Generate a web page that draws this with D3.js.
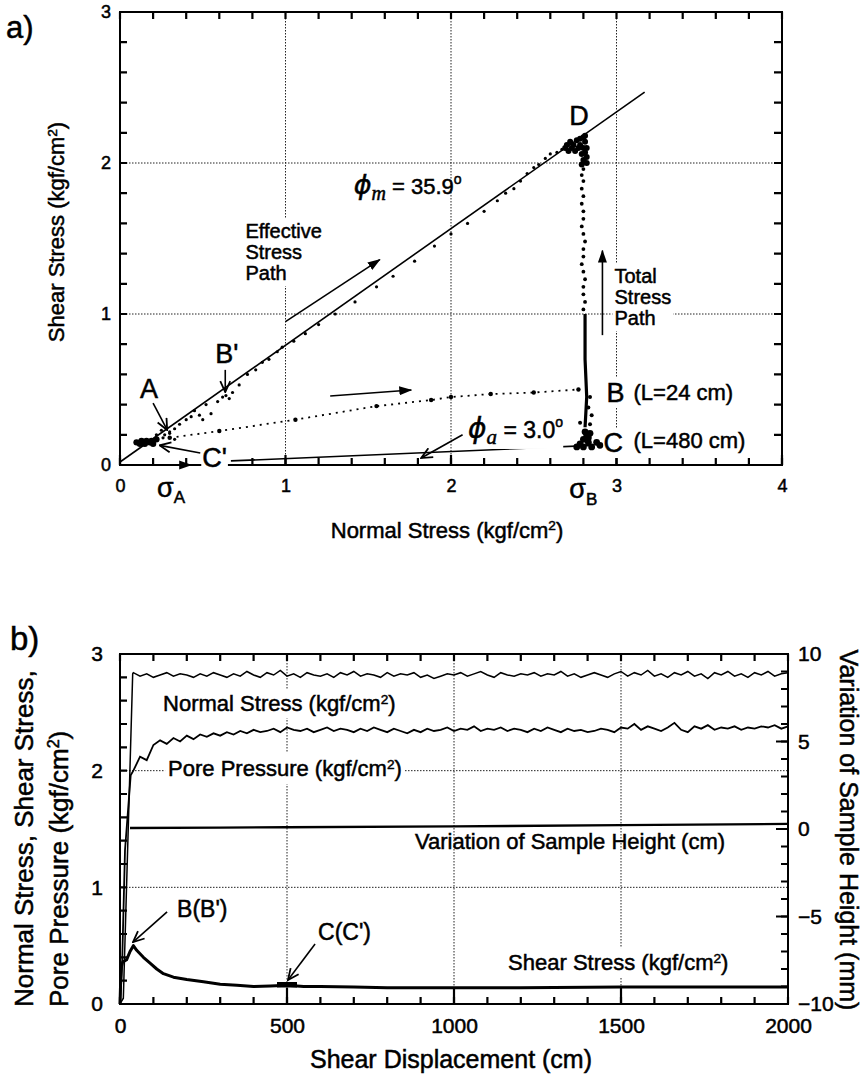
<!DOCTYPE html>
<html>
<head>
<meta charset="utf-8">
<script src="https://cdn.jsdelivr.net/npm/d3@7"></script>
<style>
  body { margin: 0; background: #fff; }
  svg { font-family: "Liberation Sans", Arial, sans-serif; }
  text { stroke: #000; stroke-width: 0.5px; }
  .grid { stroke: #222; stroke-width: 1; stroke-dasharray: 1.5 1.5; fill: none; }
</style>
</head>
<body>
<svg id="chart" width="866" height="1079"></svg>
<script>
// ---------- panel a: stress paths (kgf/cm2) ----------
const failLine = [[0, 0.02], [3.17, 2.47]];          // phi_m line
const residualLine = [[0.67, 0.027], [2.86, 0.13]];   // phi_a line, C -> C'
const effDots = [[0.27,0.2],[0.3,0.22],[0.33,0.24],[0.36,0.27],[0.4,0.3],[0.43,0.32],[0.45,0.36],
  [0.48,0.33],[0.5,0.3],[0.55,0.34],[0.52,0.4],[0.59,0.42],[0.62,0.45],[0.64,0.46],[0.66,0.44],
  [0.68,0.48],[0.72,0.53],[0.77,0.6],[0.82,0.63],[0.86,0.68],[0.9,0.7],[0.95,0.75],[0.98,0.78],
  [1.05,0.82],[1.12,0.87],[1.2,0.93],[1.3,1.0],[1.42,1.08],[1.55,1.18],[1.65,1.25],[1.78,1.35],
  [1.9,1.45],[2.0,1.53],[2.1,1.6],[2.2,1.68],[2.28,1.75],[2.33,1.8],[2.38,1.83],[2.42,1.88],
  [2.46,1.93],[2.5,1.97],[2.53,1.99],[2.57,2.03],[2.6,2.06],[2.64,2.07],[2.67,2.09]];
const dBlob = [[2.69,2.1],[2.7,2.12],[2.71,2.08],[2.72,2.14],[2.73,2.1],[2.74,2.12],[2.75,2.08],
  [2.76,2.15],[2.77,2.1],[2.78,2.16],[2.78,2.12],[2.79,2.06],[2.8,2.17],[2.8,2.1],[2.8,2.02],
  [2.81,2.14],[2.81,2.18],[2.82,2.1],[2.82,2.04],[2.82,2.0],[2.79,1.99],[2.81,2.07]];
const dropDots = [[2.8,1.96],[2.79,1.92],[2.8,1.88],[2.79,1.83],[2.8,1.78],[2.79,1.73],[2.8,1.68],
  [2.8,1.63],[2.79,1.58],[2.8,1.53],[2.81,1.48],[2.8,1.43],[2.8,1.38],[2.79,1.33],[2.8,1.28],
  [2.81,1.23],[2.8,1.18],[2.8,1.13],[2.81,1.08],[2.8,1.03]];
const dropLine = [[2.81, 1.0], [2.81, 0.7], [2.82, 0.45], [2.81, 0.25]];
const bcDots = [[2.84,0.45],[2.83,0.38],[2.85,0.33],[2.78,0.28],[2.84,0.27],[2.82,0.22]];
const cBlob = [[2.76,0.12],[2.8,0.12],[2.85,0.12],[2.9,0.13],[2.88,0.15],[2.83,0.15],[2.78,0.14],
  [2.8,0.17],[2.83,0.18],[2.82,0.2],[2.81,0.22],[2.84,0.21]];
const cPrimeBlob = [[0.1,0.15],[0.13,0.16],[0.16,0.16],[0.19,0.16],[0.22,0.17],[0.12,0.14],
  [0.15,0.14],[0.18,0.15],[0.2,0.14]];
const aDots = [[0.22,0.2],[0.26,0.18],[0.3,0.21],[0.33,0.17],[0.25,0.23]];
const totalPath = [[0.3,0.18],[0.6,0.225],[1.06,0.3],[1.55,0.39],[1.88,0.43],[2.0,0.45],
  [2.24,0.47],[2.5,0.48],[2.77,0.5]];
const xTicksA = [0, 1, 2, 3, 4];
const yTicksA = [0, 1, 2, 3];

// ---------- panel b: time histories vs shear displacement (cm) ----------
const dispX = d3.range(40, 2001, 20);   // sampling grid, 20 cm
const normalRise = [[0, 0], [10, 0.05], [38, 2.83]];
const normalStress = [2.84,2.81,2.83,2.80,2.82,2.84,2.81,2.83,2.82,2.80,
  2.83,2.81,2.84,2.82,2.80,2.83,2.81,2.85,2.82,2.80,
  2.84,2.82,2.86,2.81,2.83,2.80,2.84,2.82,2.81,2.83,
  2.80,2.84,2.82,2.85,2.81,2.83,2.82,2.80,2.84,2.81,
  2.83,2.82,2.84,2.80,2.82,2.79,2.81,2.83,2.82,2.84,
  2.81,2.83,2.85,2.82,2.80,2.84,2.82,2.81,2.83,2.82,
  2.84,2.81,2.83,2.82,2.85,2.81,2.83,2.80,2.82,2.84,
  2.82,2.80,2.83,2.85,2.81,2.84,2.82,2.86,2.81,2.83,
  2.80,2.84,2.82,2.85,2.81,2.83,2.79,2.84,2.82,2.85,
  2.81,2.83,2.80,2.84,2.82,2.85,2.81,2.83,2.84];
const poreRise = [[0, 0], [6, 0.3], [15, 1.32], [32, 1.96]];
const porePressure = [2.00,2.12,2.09,2.22,2.26,2.23,2.28,2.25,2.30,2.27,
  2.31,2.29,2.32,2.30,2.33,2.31,2.34,2.32,2.35,2.33,
  2.34,2.36,2.33,2.37,2.35,2.34,2.36,2.33,2.35,2.37,
  2.34,2.36,2.35,2.33,2.36,2.34,2.37,2.35,2.33,2.36,
  2.34,2.32,2.35,2.33,2.36,2.34,2.35,2.37,2.34,2.36,
  2.35,2.38,2.34,2.36,2.35,2.37,2.34,2.36,2.35,2.33,
  2.36,2.34,2.37,2.35,2.33,2.36,2.34,2.35,2.33,2.34,
  2.36,2.35,2.33,2.37,2.36,2.40,2.35,2.38,2.36,2.34,
  2.37,2.41,2.35,2.33,2.38,2.36,2.39,2.35,2.37,2.36,
  2.38,2.35,2.37,2.36,2.38,2.37,2.39,2.36,2.38];
const sampleHeight = [[30,0.06],[300,0.08],[500,0.1],[1000,0.15],[1500,0.22],[2000,0.29]];  // mm
const shearStress = [[0,0],[3,0.3],[8,0.36],[20,0.38],[30,0.45],[40,0.5],[50,0.46],[70,0.4],
  [90,0.35],[110,0.3],[130,0.26],[160,0.23],[200,0.21],[250,0.19],[300,0.17],[350,0.16],
  [400,0.15],[450,0.155],[500,0.16],[550,0.15],[600,0.15],[700,0.145],[800,0.14],[1000,0.14],
  [1200,0.14],[1500,0.145],[2000,0.145]];
const cMark = [[470, 0.165], [530, 0.165]];
const xTicksB = [0, 500, 1000, 1500, 2000];
const yTicksB = [0, 1, 2, 3];
const yTicksR = [-10, -5, 0, 5, 10];

const svg = d3.select("#chart");
const defs = svg.append("defs");
defs.append("marker").attr("id", "headFill").attr("viewBox", "0 -5 13 10")
  .attr("refX", 12).attr("refY", 0).attr("markerWidth", 13).attr("markerHeight", 10)
  .attr("markerUnits", "userSpaceOnUse").attr("orient", "auto")
  .append("path").attr("d", "M0,-4.5L13,0L0,4.5Z").attr("fill", "#000");
defs.append("marker").attr("id", "headOpen").attr("viewBox", "-1 -6 13 12")
  .attr("refX", 11).attr("refY", 0).attr("markerWidth", 13).attr("markerHeight", 12)
  .attr("markerUnits", "userSpaceOnUse").attr("orient", "auto")
  .append("path").attr("d", "M0,-5L11,0L0,5").attr("fill", "none").attr("stroke", "#000").attr("stroke-width", 1.8);

// tick labels through d3 axes (no lines)
function axisLabels(g, ax, tr, vals, pad, fs) {
  ax.tickValues(vals).tickSize(0).tickPadding(pad).tickFormat(d3.format("d"));
  const s = g.append("g").attr("transform", tr).call(ax);
  s.select(".domain").remove();
  s.selectAll("line").remove();
  s.selectAll("text").attr("font-size", fs).attr("fill", "#000")
    .attr("font-family", "'Liberation Sans', Arial, sans-serif");
}
// inward tick marks as one path; side: bottom | top | left | right, pos = pixel of that side
function tickMarks(g, scale, vals, side, pos, len) {
  const p = d3.path();
  vals.forEach(v => {
    const c = scale(v);
    if (side === "bottom") { p.moveTo(c, pos); p.lineTo(c, pos - len); }
    if (side === "top") { p.moveTo(c, pos); p.lineTo(c, pos + len); }
    if (side === "left") { p.moveTo(pos, c); p.lineTo(pos + len, c); }
    if (side === "right") { p.moveTo(pos, c); p.lineTo(pos - len, c); }
  });
  g.append("path").attr("d", p.toString()).attr("stroke", "#000")
    .attr("stroke-width", 2.2).attr("fill", "none");
}

function label(g, x, y, fs, html, opt = {}) {
  const t = g.append("text").attr("x", x).attr("y", y).attr("font-size", fs)
    .attr("text-anchor", opt.anchor || "start").html(html);
  if (opt.transform) t.attr("transform", opt.transform);
  if (opt.bg !== undefined) {
    const b = t.node().getBBox(), p = opt.bg;
    g.insert("rect", () => t.node()).attr("x", b.x - p).attr("y", b.y - p)
      .attr("width", b.width + 2 * p).attr("height", b.height + 2 * p).attr("fill", "#fff");
  }
  return t;
}

function arrow(g, pts, head, w) {
  g.append("path").attr("d", d3.line()(pts)).attr("stroke", "#000")
    .attr("stroke-width", w || 1.5).attr("fill", "none").attr("marker-end", `url(#${head})`);
}

const sup2 = "<tspan font-size='0.62em' dy='-0.55em'>2</tspan><tspan dy='0.34em'>)</tspan>";

// ================= panel a =================
const xa = d3.scaleLinear().domain([0, 4]).range([120, 782]);
const ya = d3.scaleLinear().domain([0, 3]).range([465, 12]);
const ga = svg.append("g");
const P = d => [xa(d[0]), ya(d[1])];

// grid
[1, 2, 3].forEach(v => ga.append("line").attr("class", "grid")
  .attr("x1", xa(v)).attr("x2", xa(v)).attr("y1", ya(3)).attr("y2", ya(0)));
[1, 2].forEach(v => ga.append("line").attr("class", "grid")
  .attr("x1", xa(0)).attr("x2", xa(4)).attr("y1", ya(v)).attr("y2", ya(v)));

// labels that break the grid
const lbA = ga.append("g");
label(lbA, xa(0.758), ya(1.503), 20,
  "Effective<tspan x='" + xa(0.758) + "' dy='21'>Stress</tspan><tspan x='" + xa(0.758) + "' dy='21'>Path</tspan>", { bg: 2 });
label(lbA, xa(2.988), ya(1.205), 20,
  "Total<tspan x='" + xa(2.988) + "' dy='21'>Stress</tspan><tspan x='" + xa(2.988) + "' dy='21'>Path</tspan>", { bg: 2 });

// data
const line = d3.line();
ga.append("path").attr("d", line(failLine.map(P))).attr("stroke", "#000").attr("stroke-width", 1.6).attr("fill", "none");
ga.append("path").attr("d", line(residualLine.map(P))).attr("stroke", "#000").attr("stroke-width", 1.6).attr("fill", "none");
ga.append("path").attr("d", line(totalPath.map(P))).attr("stroke", "#000").attr("stroke-width", 1.8)
  .attr("stroke-dasharray", "2 5").attr("fill", "none");
ga.selectAll(".tp").data(totalPath).join("circle").attr("cx", d => xa(d[0])).attr("cy", d => ya(d[1])).attr("r", 2.2);
ga.selectAll(".ed").data(effDots.concat(aDots)).join("circle").attr("cx", d => xa(d[0])).attr("cy", d => ya(d[1])).attr("r", 1.6);
ga.selectAll(".db").data(dBlob).join("circle").attr("cx", d => xa(d[0])).attr("cy", d => ya(d[1])).attr("r", 3);
ga.selectAll(".dd").data(dropDots).join("circle").attr("cx", d => xa(d[0])).attr("cy", d => ya(d[1])).attr("r", 1.9);
ga.append("path").attr("d", line(dropLine.map(P))).attr("stroke", "#000").attr("stroke-width", 3.2).attr("fill", "none");
ga.selectAll(".bc").data(bcDots).join("circle").attr("cx", d => xa(d[0])).attr("cy", d => ya(d[1])).attr("r", 2);
ga.selectAll(".cb").data(cBlob).join("circle").attr("cx", d => xa(d[0])).attr("cy", d => ya(d[1])).attr("r", 3.4);
ga.selectAll(".cp").data(cPrimeBlob).join("circle").attr("cx", d => xa(d[0])).attr("cy", d => ya(d[1])).attr("r", 3.2);

// frame + ticks
ga.append("rect").attr("x", xa(0)).attr("y", ya(3)).attr("width", xa(4) - xa(0)).attr("height", ya(0) - ya(3))
  .attr("fill", "none").attr("stroke", "#000").attr("stroke-width", 2);
const minX = d3.range(0, 21).map(i => i * 0.2), minY = d3.range(0, 16).map(i => i * 0.2);
tickMarks(ga, xa, minX, "bottom", ya(0), 7);
tickMarks(ga, xa, xTicksA, "bottom", ya(0), 10);
tickMarks(ga, xa, minX, "top", ya(3), 7);
tickMarks(ga, ya, minY, "left", xa(0), 7);
tickMarks(ga, ya, minY, "right", xa(4), 8);
axisLabels(ga, d3.axisBottom(xa), `translate(0,${ya(0)})`, xTicksA, 14, 18);
axisLabels(ga, d3.axisLeft(ya), `translate(${xa(0)},0)`, yTicksA, 9, 18);

// annotations
arrow(ga, [[0.0, 0.0], [0.43, 0.0]].map(P), "headFill", 1.6);
arrow(ga, [[1.0, 0.95], [1.57, 1.36]].map(P), "headFill", 1.6);
arrow(ga, [[2.915, 0.86], [2.915, 1.42]].map(P), "headFill", 1.6);
arrow(ga, [[1.27, 0.457], [1.76, 0.497]].map(P), "headFill", 1.6);
arrow(ga, [[0.2, 0.41], [0.285, 0.232]].map(P), "headOpen", 1.6);
arrow(ga, [[0.636, 0.63], [0.636, 0.483]].map(P), "headOpen", 1.6);
arrow(ga, [[0.485, 0.08], [0.24, 0.13]].map(P), "headOpen", 1.6);
arrow(ga, [[2.07, 0.2], [1.82, 0.046]].map(P), "headOpen", 1.6);

const phiFont = "font-family='DejaVu Sans' font-style='italic'";
const subFont = "font-family='Liberation Serif' font-style='italic'";
label(ga, xa(1.412), ya(1.795), 22,
  `<tspan ${phiFont} font-size='27'>ϕ</tspan><tspan ${subFont} font-size='20' dy='6'>m</tspan><tspan dy='-6'> = 35.9</tspan><tspan font-size='14' dy='-10'>o</tspan>`);
label(ga, xa(2.103), ya(0.179), 23,
  `<tspan ${phiFont} font-size='28'>ϕ</tspan><tspan ${subFont} font-size='21' dy='6'>a</tspan><tspan dy='-6'> = 3.0</tspan><tspan font-size='14' dy='-11'>o</tspan>`, { bg: 0 });
label(ga, xa(2.715), ya(2.252), 27, "D");
label(ga, xa(2.94), ya(0.417), 27, "B", { bg: 0 });
label(ga, xa(3.103), ya(0.43), 22, "(L=24 cm)");
label(ga, xa(2.921), ya(0.086), 27, "C", { bg: 0 });
label(ga, xa(3.103), ya(0.113), 22, "(L=480 cm)");
label(ga, xa(0.121), ya(0.444), 27, "A");
label(ga, xa(0.576), ya(0.675), 27, "B'");
label(ga, xa(0.497), ya(-0.013), 27, "C'", { bg: 1 });
label(ga, xa(0.224), ya(-0.212), 27, "σ<tspan font-size='17' dy='6'>A</tspan>");
label(ga, xa(2.715), ya(-0.219), 27, "σ<tspan font-size='17' dy='7'>B</tspan>");
label(ga, 447, 538, 22, "Normal Stress (kgf/cm" + sup2, { anchor: "middle" });
label(ga, 0, 0, 22, "Shear Stress (kgf/cm" + sup2, { anchor: "middle", transform: "translate(64,232) rotate(-90)" });
label(ga, 6, 38, 31, "a)");

// ================= panel b =================
const xb = d3.scaleLinear().domain([0, 2000]).range([120, 788]);
const yb = d3.scaleLinear().domain([0, 3]).range([1004, 654]);
const yr = d3.scaleLinear().domain([-10, 10]).range([1004, 654]);
const gb = svg.append("g");

[500, 1000, 1500].forEach(v => gb.append("line").attr("class", "grid")
  .attr("x1", xb(v)).attr("x2", xb(v)).attr("y1", yb(3)).attr("y2", yb(0)));
[1, 2].forEach(v => gb.append("line").attr("class", "grid")
  .attr("x1", xb(0)).attr("x2", xb(2000)).attr("y1", yb(v)).attr("y2", yb(v)));

label(gb, xb(129), yb(2.511), 22, "Normal Stress (kgf/cm" + sup2, { bg: 2 });
label(gb, xb(144), yb(1.954), 22, "Pore Pressure (kgf/cm" + sup2, { bg: 3 });
label(gb, xb(883), yb(1.329), 22, "Variation of Sample Height (cm)");
label(gb, xb(1162), yb(0.291), 22, "Shear Stress (kgf/cm" + sup2, { bg: 2 });

const lb = d3.line().x(d => xb(d[0])).y(d => yb(d[1]));
const lr = d3.line().x(d => xb(d[0])).y(d => yr(d[1]));
const normalPts = normalRise.concat(dispX.map((x, i) => [x, normalStress[i]]));
const porePts = poreRise.concat(dispX.map((x, i) => [x, porePressure[i]]));
gb.append("path").attr("d", lb(normalPts)).attr("stroke", "#000").attr("stroke-width", 1.5).attr("fill", "none");
gb.append("path").attr("d", lb(porePts)).attr("stroke", "#000").attr("stroke-width", 1.8).attr("fill", "none");
gb.append("path").attr("d", lr(sampleHeight)).attr("stroke", "#000").attr("stroke-width", 2.4).attr("fill", "none");
gb.append("path").attr("d", lb(shearStress)).attr("stroke", "#000").attr("stroke-width", 3).attr("fill", "none")
  .attr("stroke-linejoin", "round");
gb.append("path").attr("d", lb(cMark)).attr("stroke", "#000").attr("stroke-width", 5.5).attr("fill", "none");

gb.append("rect").attr("x", xb(0)).attr("y", yb(3)).attr("width", xb(2000) - xb(0)).attr("height", yb(0) - yb(3))
  .attr("fill", "none").attr("stroke", "#000").attr("stroke-width", 2);
const minXB = d3.range(0, 21).map(i => i * 100);
const minYB = d3.range(0, 16).map(i => i * 0.2);
const minYR = d3.range(-10, 11);
tickMarks(gb, xb, minXB, "bottom", yb(0), 7);
tickMarks(gb, xb, [500, 1000, 1500], "bottom", yb(0), 16);
tickMarks(gb, xb, minXB, "top", yb(3), 7);
tickMarks(gb, yb, minYB, "left", xb(0), 7);
tickMarks(gb, yr, minYR, "right", xb(2000), 7);
tickMarks(gb, yr, yTicksR, "right", xb(2000), 12);
axisLabels(gb, d3.axisBottom(xb), `translate(0,${yb(0)})`, xTicksB, 14, 21);
axisLabels(gb, d3.axisLeft(yb), `translate(${xb(0)},0)`, yTicksB, 17, 21);
axisLabels(gb, d3.axisRight(yr), `translate(${xb(2000)},0)`, yTicksR, 10, 21);

arrow(gb, [[141, 0.789], [39, 0.531]].map(d => [xb(d[0]), yb(d[1])]), "headOpen", 1.6);
arrow(gb, [[584, 0.514], [503, 0.206]].map(d => [xb(d[0]), yb(d[1])]), "headOpen", 1.6);
label(gb, xb(171), yb(0.746), 23, "B(B')");
label(gb, xb(593), yb(0.549), 23, "C(C')");

label(gb, 451, 1068, 25, "Shear Displacement (cm)", { anchor: "middle" });
label(gb, 0, 0, 26, "Normal Stress, Shear Stress,", { transform: "translate(33,1007) rotate(-90)" });
label(gb, 0, 0, 26, "Pore Pressure (kgf/cm" + sup2, { transform: "translate(68,1007) rotate(-90)" });
label(gb, 0, 0, 25, "Variation of Sample Height (mm)", { anchor: "middle", transform: "translate(840,830) rotate(90)" });
label(gb, 10, 650, 33, "b)");
</script>
</body>
</html>
